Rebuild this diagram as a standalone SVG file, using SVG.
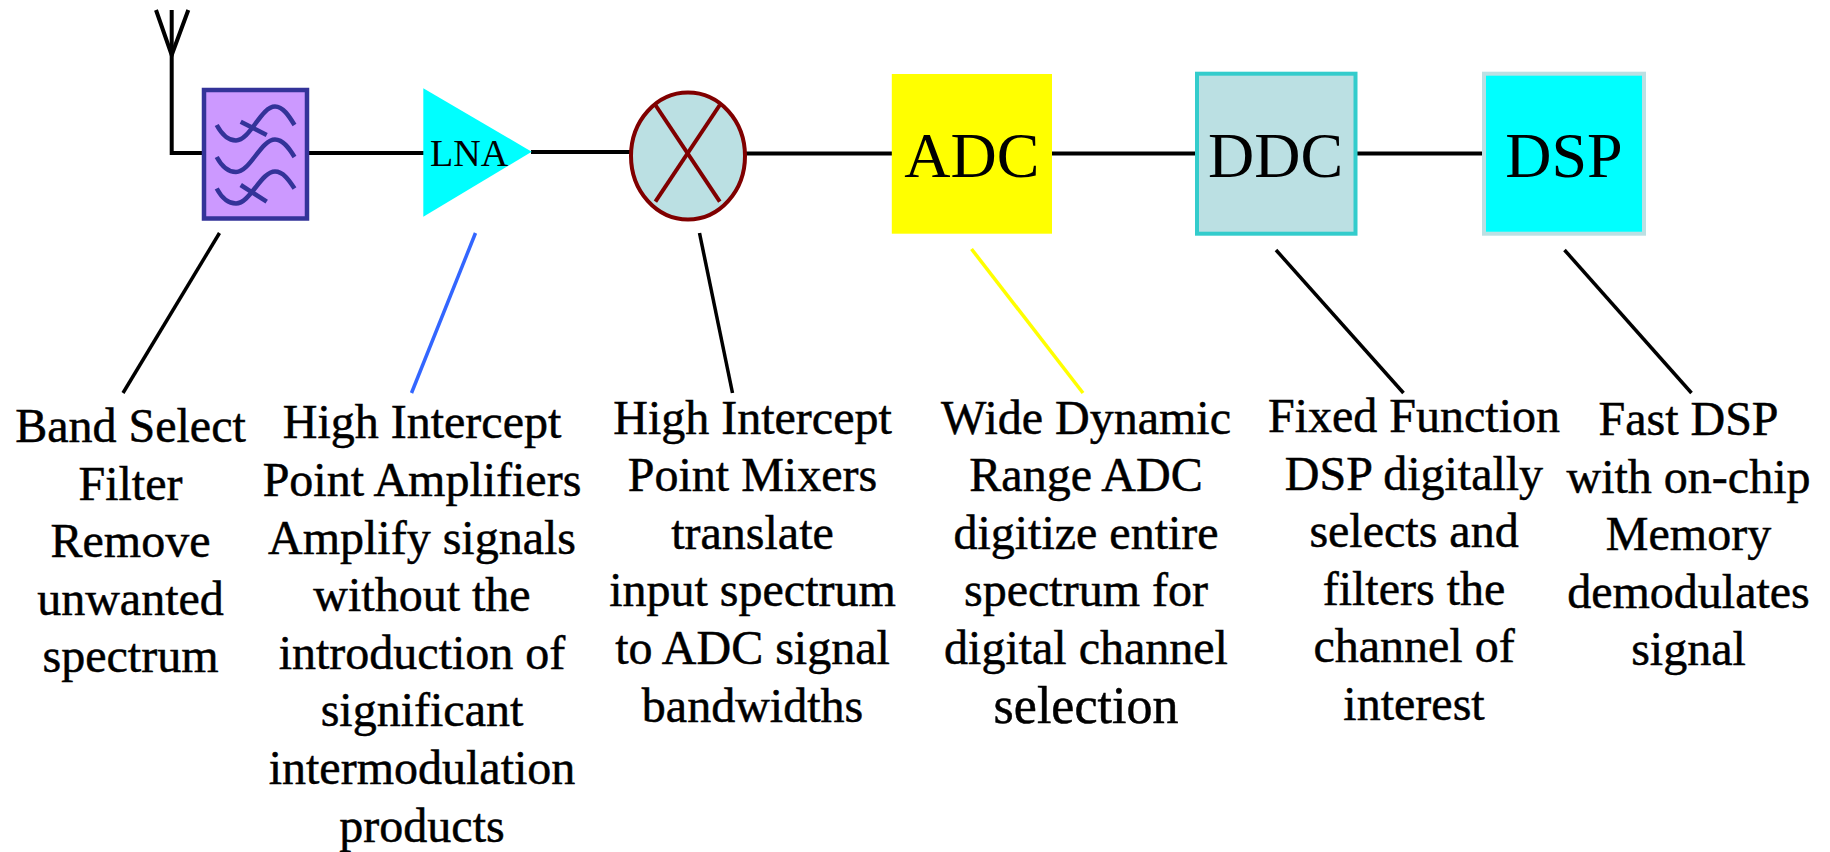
<svg xmlns="http://www.w3.org/2000/svg" width="1830" height="852" viewBox="0 0 1830 852">
<style>
.wire{stroke:#000;stroke-width:4;fill:none}
.lead{stroke-width:3.5;fill:none}
.lbl{font-family:'Liberation Serif','Times New Roman',serif;font-size:48px;fill:#000;stroke:#000;stroke-width:0.5;text-anchor:middle}
.big{font-family:'Liberation Serif','Times New Roman',serif;font-size:64px;fill:#000;text-anchor:middle}
.wave{stroke:#333399;stroke-width:4.5;fill:none;stroke-linecap:butt}
</style>
<rect width="1830" height="852" fill="#fff"/>
<g id="connectors">
  <g id="signal-path">
    <polyline class="wire" points="171.7,10 171.7,153 204,153"/>
    <line class="wire" x1="300" y1="153" x2="425" y2="153"/>
    <line class="wire" x1="531" y1="152" x2="630" y2="152"/>
    <line class="wire" x1="746" y1="153.5" x2="892" y2="153.5"/>
    <line class="wire" x1="1052" y1="153.5" x2="1196" y2="153.5"/>
    <line class="wire" x1="1357" y1="153.5" x2="1484" y2="153.5"/>
  </g>
  <g id="leaders">
    <line class="lead" stroke="#000" x1="219.5" y1="233" x2="123" y2="393"/>
    <line class="lead" stroke="#3366FF" x1="475.5" y1="233" x2="411.5" y2="393"/>
    <line class="lead" stroke="#000" x1="699.5" y1="233" x2="732.5" y2="393"/>
    <line class="lead" stroke="#FFFF00" x1="971.5" y1="249" x2="1083" y2="393"/>
    <line class="lead" stroke="#000" x1="1276" y1="250" x2="1403.5" y2="393"/>
    <line class="lead" stroke="#000" x1="1564.5" y1="250" x2="1691.5" y2="393"/>
  </g>
</g>
<g id="antenna">
  <polyline class="wire" points="156,10 171.7,55 188.3,10"/>
</g>
<g id="filter">
  <rect x="204" y="90" width="103" height="128.5" fill="#CC99FF" stroke="#333399" stroke-width="4.5"/>
  <path class="wave" d="M216.7,125 C221,133 228,140.5 236,140.5 C250,140.5 261,106.5 275,106.5 C283,106.5 289,116 294.5,125"/>
  <path class="wave" d="M216.7,157 C221,165 228,172 236,172 C250,172 261,139.5 275,139.5 C283,139.5 289,148 294.5,157"/>
  <path class="wave" d="M216.7,188.5 C221,196.5 228,203.5 236,203.5 C250,203.5 261,171.5 275,171.5 C283,171.5 289,180 294.5,188.5"/>
  <line class="wave" x1="240.7" y1="121.7" x2="266.7" y2="135"/>
  <line class="wave" x1="240.7" y1="185" x2="266.7" y2="201.7"/>
</g>
<g id="lna">
  <polygon points="423.3,88.3 423.3,216.7 531.7,151.7" fill="#00FFFF"/>
  <text x="430" y="166" font-family="'Liberation Serif', 'Times New Roman', serif" font-size="38">LNA</text>
</g>
<g id="mixer">
  <ellipse cx="688" cy="156" rx="57" ry="63.5" fill="#BBE0E3" stroke="#800000" stroke-width="4"/>
  <line x1="655.4" y1="105" x2="719.8" y2="201.7" stroke="#800000" stroke-width="4"/>
  <line x1="719.8" y1="105" x2="655.4" y2="201.7" stroke="#800000" stroke-width="4"/>
</g>
<g id="adc">
  <rect x="891.8" y="74" width="160.2" height="159.7" fill="#FFFF00"/>
  <text class="big" x="971.8" y="177">ADC</text>
</g>
<g id="ddc">
  <rect x="1197" y="73.7" width="158.5" height="160" fill="#BBE0E3" stroke="#33CCCC" stroke-width="4"/>
  <text class="big" x="1275.5" y="177.3">DDC</text>
</g>
<g id="dsp">
  <rect x="1484" y="73.7" width="160" height="160" fill="#00FFFF" stroke="#BBE0E3" stroke-width="4"/>
  <text class="big" x="1564" y="177.3">DSP</text>
</g>
<g id="label-filter" class="lbl">
  <text x="130.5" y="442">Band Select</text>
  <text x="130.5" y="499.6">Filter</text>
  <text x="130.5" y="557.2">Remove</text>
  <text x="130.5" y="614.8">unwanted</text>
  <text x="130.5" y="672.4">spectrum</text>
</g>
<g id="label-lna" class="lbl">
  <text x="422" y="438.3">High Intercept</text>
  <text x="422" y="495.9">Point Amplifiers</text>
  <text x="422" y="553.5">Amplify signals</text>
  <text x="422" y="611.1">without the</text>
  <text x="422" y="668.7">introduction of</text>
  <text x="422" y="726.3">significant</text>
  <text x="422" y="783.9">intermodulation</text>
  <text x="422" y="841.5">products</text>
</g>
<g id="label-mixer" class="lbl">
  <text x="752.5" y="433.5">High Intercept</text>
  <text x="752.5" y="491.1">Point Mixers</text>
  <text x="752.5" y="548.7">translate</text>
  <text x="752.5" y="606.3">input spectrum</text>
  <text x="752.5" y="663.9">to ADC signal</text>
  <text x="752.5" y="721.5">bandwidths</text>
</g>
<g id="label-adc" class="lbl">
  <text x="1086" y="433.5">Wide Dynamic</text>
  <text x="1086" y="491.1">Range ADC</text>
  <text x="1086" y="548.7">digitize entire</text>
  <text x="1086" y="606.3">spectrum for</text>
  <text x="1086" y="663.9">digital channel</text>
  <text x="1086" y="722.5" style="font-size:52px">selection</text>
</g>
<g id="label-ddc" class="lbl">
  <text x="1414" y="432">Fixed Function</text>
  <text x="1414" y="489.6">DSP digitally</text>
  <text x="1414" y="547.2">selects and</text>
  <text x="1414" y="604.8">filters the</text>
  <text x="1414" y="662.4">channel of</text>
  <text x="1414" y="720">interest</text>
</g>
<g id="label-dsp" class="lbl">
  <text x="1688.5" y="435">Fast DSP</text>
  <text x="1688.5" y="492.6">with on-chip</text>
  <text x="1688.5" y="550.2">Memory</text>
  <text x="1688.5" y="607.8">demodulates</text>
  <text x="1688.5" y="665.4">signal</text>
</g>
</svg>
